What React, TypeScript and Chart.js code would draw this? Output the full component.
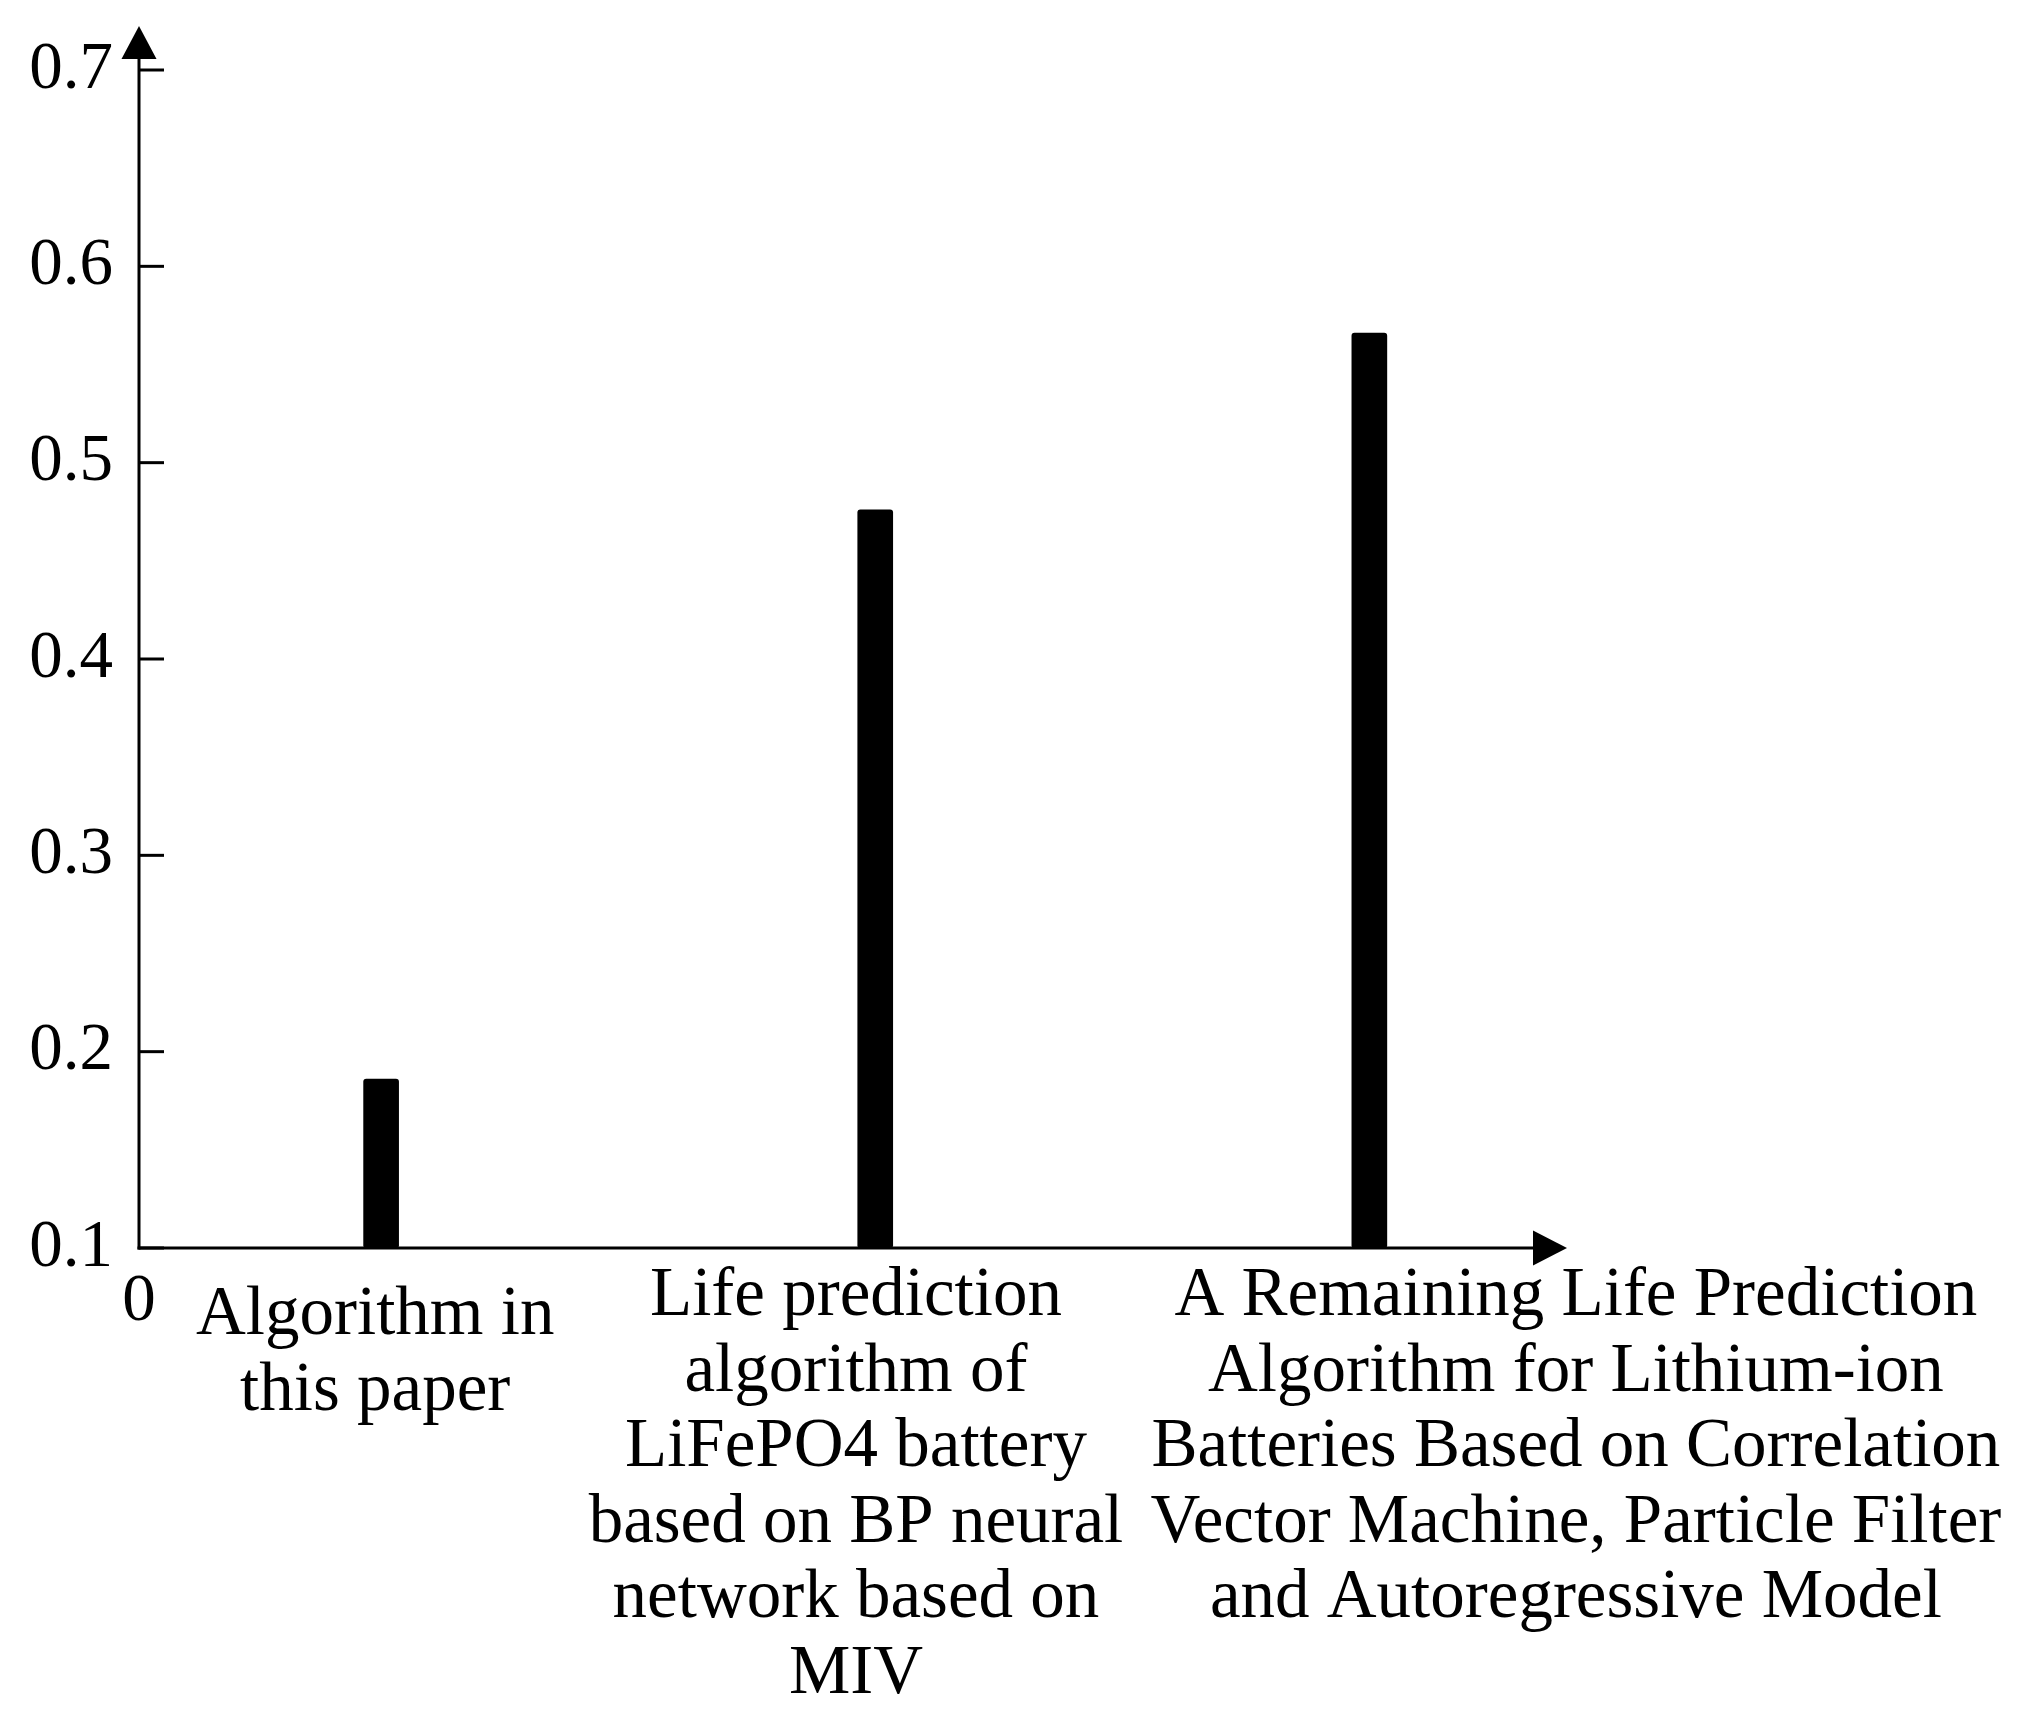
import React, { useEffect, useRef } from "react";
import { Chart, registerables } from "chart.js";

Chart.register(...registerables);

// ---- data ----
const CATEGORY_LABELS: string[][] = [
  ["Algorithm in", "this paper"],
  [
    "Life prediction",
    "algorithm of",
    "LiFePO4 battery",
    "based on BP neural",
    "network based on",
    "MIV",
  ],
  [
    "A Remaining Life Prediction",
    "Algorithm for Lithium-ion",
    "Batteries Based on Correlation",
    "Vector Machine, Particle Filter",
    "and Autoregressive Model",
  ],
];
const BAR_X = [1, 2, 3];
const BAR_VALUES = [0.186, 0.476, 0.566];
const LABEL_X = [0.988, 1.961, 3.418];
const Y_TICKS = [0.1, 0.2, 0.3, 0.4, 0.5, 0.6, 0.7];
const X_MIN = 0.51;
const X_MAX = 3.4;
const ORIGIN_LABEL = "0";

// ---- styles ----
const W = 2017;
const H = 1716;
const SERIF = '"Liberation Serif", "Times New Roman", serif';
const LABEL_FONT_SIZE = 69;
const LABEL_LINE_HEIGHT = 75.5;
const LABEL_FIRST_BASELINE = [86, 67, 67];
const TICK_FONT_SIZE = 67;

const axesPlugin = {
  id: "customAxes",
  afterDraw(chart: any) {
    const ctx = chart.ctx as CanvasRenderingContext2D;
    const { left, right, top, bottom } = chart.chartArea;
    const yScale = chart.scales.y;
    const xScale = chart.scales.x;
    ctx.save();
    ctx.strokeStyle = "#000";
    ctx.fillStyle = "#000";
    ctx.lineWidth = 3;
    ctx.lineCap = "butt";

    // y axis line + arrow
    ctx.beginPath();
    ctx.moveTo(left, bottom + 1.5);
    ctx.lineTo(left, top - 20);
    ctx.stroke();
    ctx.beginPath();
    ctx.moveTo(left, top - 44);
    ctx.lineTo(left - 17.5, top - 11);
    ctx.lineTo(left + 17.5, top - 11);
    ctx.closePath();
    ctx.fill();

    // x axis line + arrow
    ctx.beginPath();
    ctx.moveTo(left - 1.5, bottom);
    ctx.lineTo(right - 20, bottom);
    ctx.stroke();
    ctx.beginPath();
    ctx.moveTo(right, bottom);
    ctx.lineTo(right - 34, bottom - 17.5);
    ctx.lineTo(right - 34, bottom + 17.5);
    ctx.closePath();
    ctx.fill();

    // inward y tick marks
    Y_TICKS.forEach((v) => {
      const y = yScale.getPixelForValue(v);
      ctx.beginPath();
      ctx.moveTo(left, y);
      ctx.lineTo(left + 25, y);
      ctx.stroke();
    });

    // origin label
    ctx.font = `${TICK_FONT_SIZE}px ${SERIF}`;
    ctx.textAlign = "center";
    ctx.textBaseline = "alphabetic";
    ctx.fillText(ORIGIN_LABEL, xScale.getPixelForValue(X_MIN), bottom + 72);

    // category labels
    ctx.font = `${LABEL_FONT_SIZE}px ${SERIF}`;
    CATEGORY_LABELS.forEach((lines, i) => {
      const x = xScale.getPixelForValue(LABEL_X[i]);
      lines.forEach((line, j) => {
        ctx.fillText(line, x, bottom + LABEL_FIRST_BASELINE[i] + j * LABEL_LINE_HEIGHT);
      });
    });
    ctx.restore();
  },
};

export default function App() {
  const ref = useRef<HTMLCanvasElement | null>(null);

  useEffect(() => {
    document.body.style.margin = "0";
    document.body.style.background = "#fff";
    const canvas = ref.current;
    if (!canvas) return;
    const chart = new Chart(canvas, {
      type: "bar",
      data: {
        datasets: [
          {
            data: BAR_X.map((x, i) => ({ x, y: BAR_VALUES[i] })),
            backgroundColor: "#000",
            borderWidth: 0,
            barThickness: 35,
            base: Y_TICKS[0],
            borderRadius: 3,
            borderSkipped: false,
          } as any,
        ],
      },
      options: {
        responsive: false,
        animation: false,
        devicePixelRatio: 1,
        layout: { padding: { top: 70, right: 450, bottom: 468, left: 0 } },
        plugins: { legend: { display: false }, tooltip: { enabled: false } },
        scales: {
          x: {
            type: "linear",
            min: X_MIN,
            max: X_MAX,
            offset: false,
            grace: 0,
            display: false,
          },
          y: {
            type: "linear",
            position: "left",
            min: Y_TICKS[0],
            max: Y_TICKS[Y_TICKS.length - 1],
            grid: { display: false, drawTicks: false },
            border: { display: false },
            ticks: {
              color: "#000",
              padding: 26,
              font: { family: SERIF, size: TICK_FONT_SIZE },
              callback: (v: any) => Number(v).toFixed(1),
            },
            afterBuildTicks: (s: any) => {
              s.ticks = Y_TICKS.map((v) => ({ value: v }));
            },
            afterFit: (s: any) => {
              s.width = 139;
            },
          },
        },
      } as any,
      plugins: [axesPlugin],
    });
    return () => chart.destroy();
  }, []);

  return (
    <canvas
      ref={ref}
      width={W}
      height={H}
      style={{ display: "block", width: W, height: H }}
    />
  );
}
